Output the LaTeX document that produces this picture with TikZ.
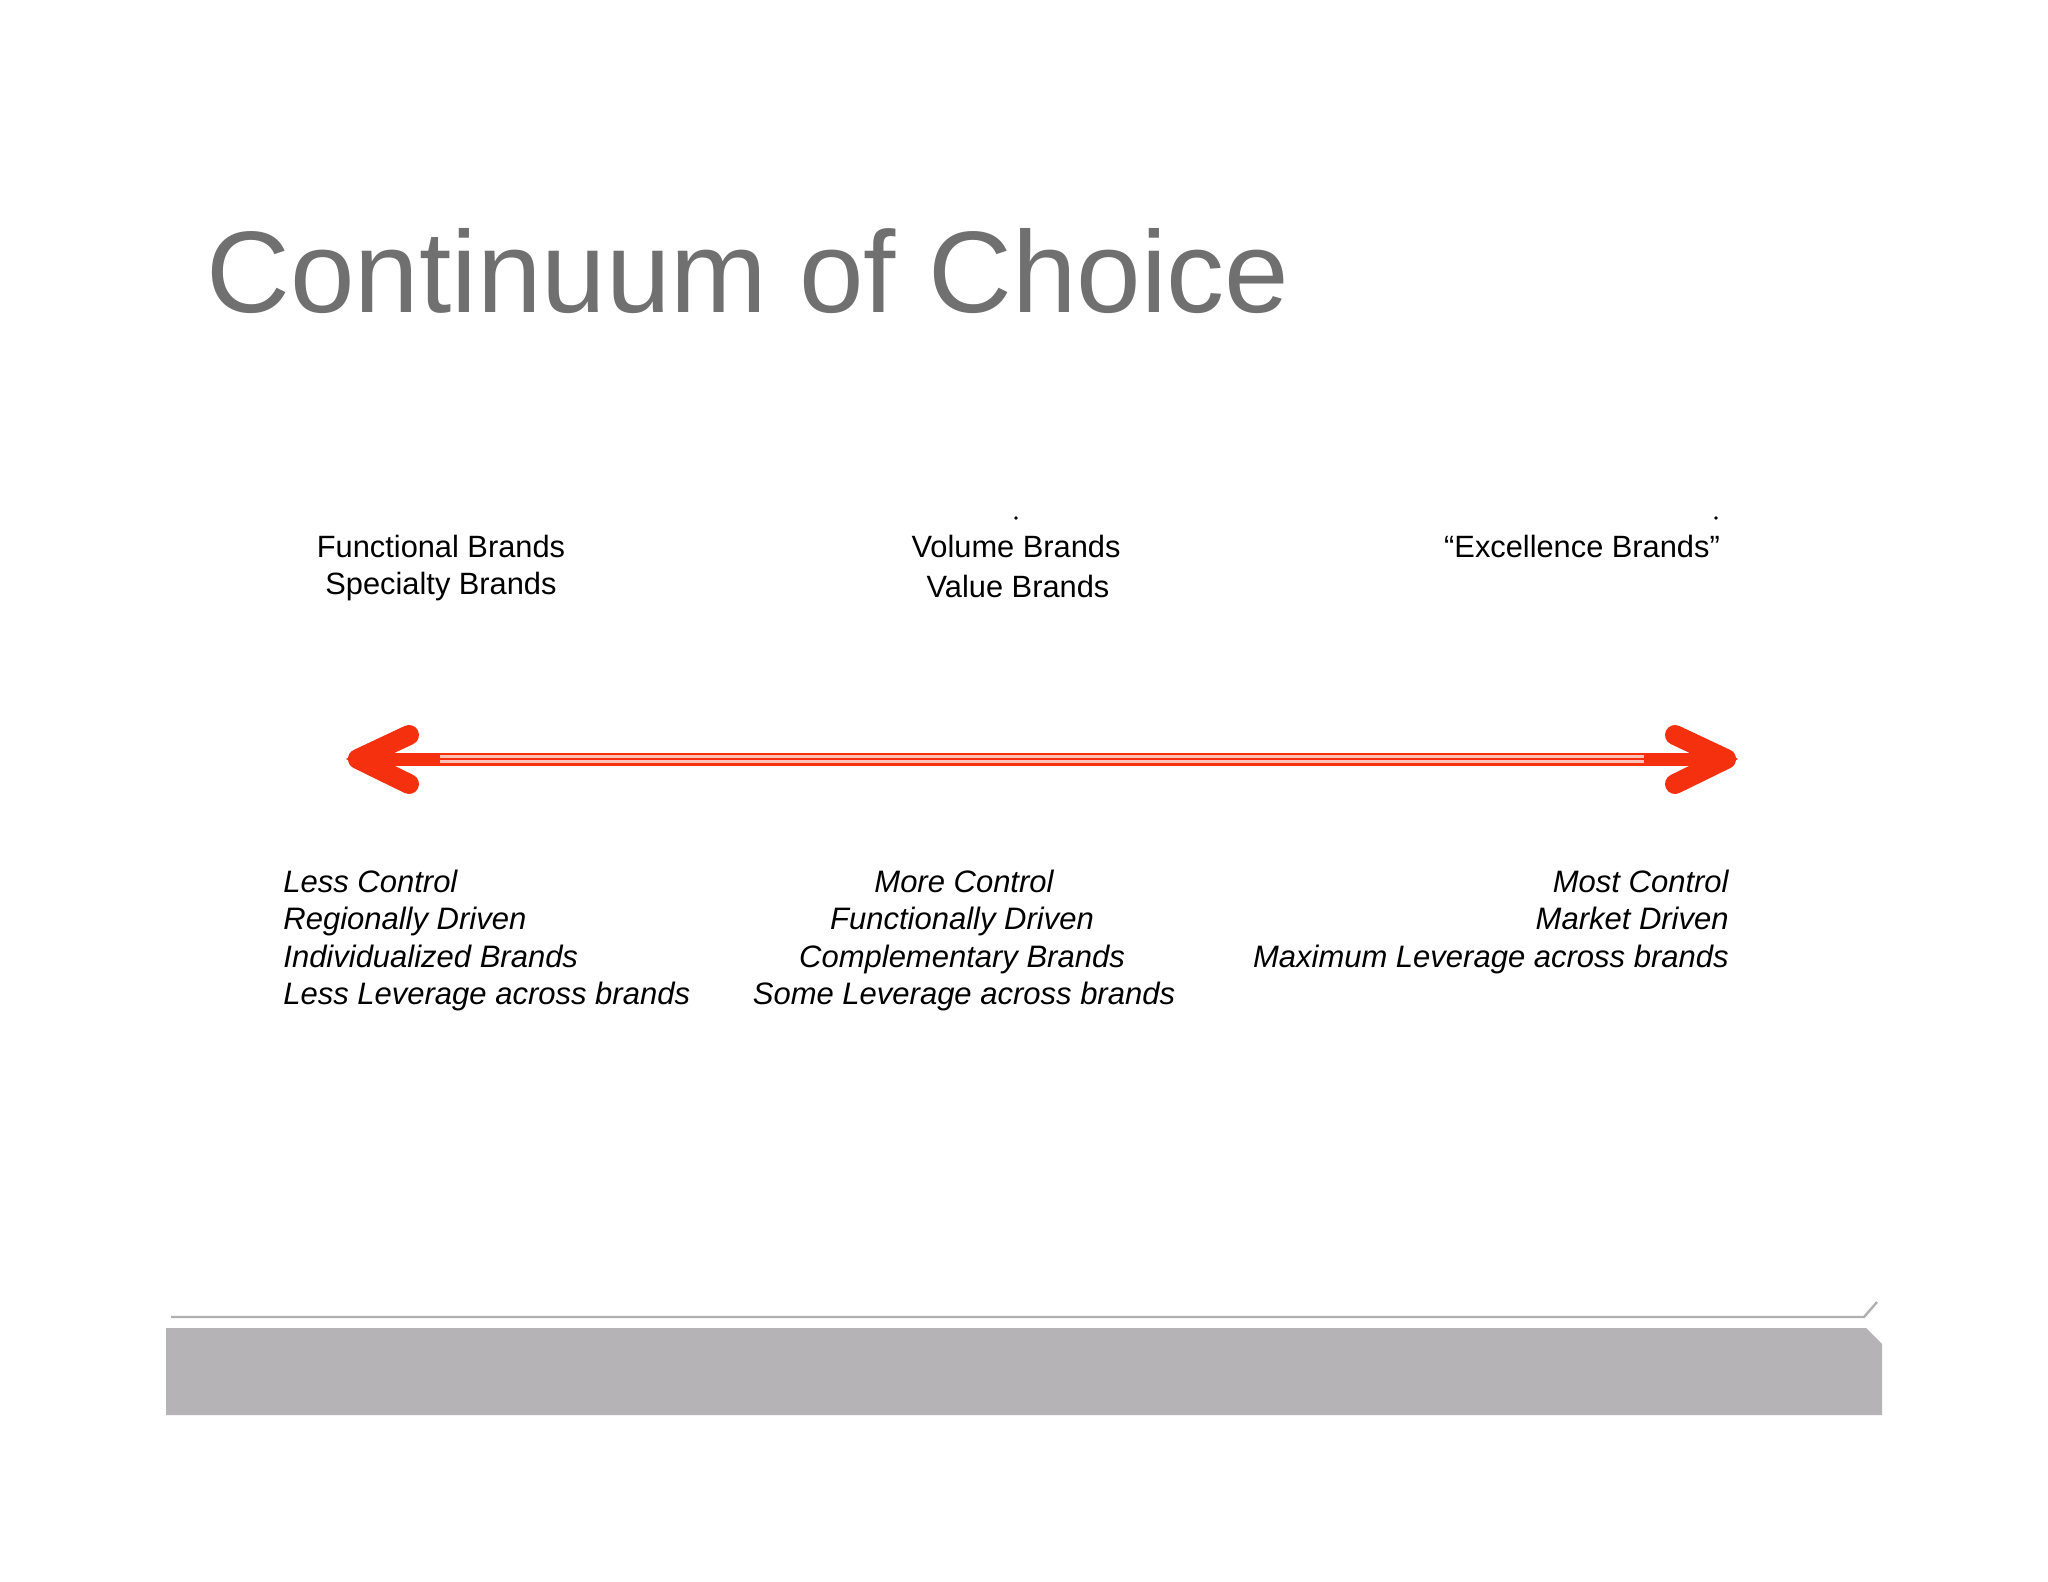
\documentclass[tikz,border=0pt]{standalone}
\usepackage{fontspec}
\setmainfont{Liberation Sans}
\definecolor{titlegray}{HTML}{707070}
\definecolor{arrred}{HTML}{F5300F}
\definecolor{barfill}{HTML}{B5B3B6}
\definecolor{linegray}{HTML}{B0AEB1}
\begin{document}
\begin{tikzpicture}[x=0.5pt,y=-0.5pt,
  lbl/.style={font=\fontsize{15.4}{18}\selectfont,inner sep=0pt,anchor=base},
  ital/.style={font=\fontsize{15.5}{18}\selectfont\itshape,inner sep=0pt,anchor=base}]
\useasboundingbox (0,0) rectangle (2048,1582);
\node[font=\fontsize{58}{64}\selectfont,text=titlegray,inner sep=0pt,anchor=base west] (title) at (206,313) {Continuum of Choice};
% top labels
\node[lbl] (fb) at (441,558) {Functional Brands};
\node[lbl] (sb) at (441,595) {Specialty Brands};
\node[lbl] (vb) at (1016,558) {Volume Brands};
\node[lbl] (vab) at (1018,597) {Value Brands};
\node[lbl] (eb) at (1582,558) {“Excellence Brands”};
\fill (1016,518) circle (1.8);
\fill (1716,518) circle (1.8);
% arrow
\coordinate (L) at (360,759);
\coordinate (R) at (1724,759);
\draw[arrred,line width=6.5pt] (L) -- (R);
\draw[white!70!arrred,line width=3.6pt] ([xshift=40]L) -- ([xshift=-40]R);
\draw[arrred,line width=1.3pt] ([xshift=40]L) -- ([xshift=-40]R);
\draw[arrred,line width=10pt,line cap=round,line join=round] (409,735) -- (358,759) -- (409,784);
\fill[arrred] (346,759) -- (395,731) -- (395,787) -- cycle;
\draw[arrred,line width=10pt,line cap=round,line join=round] (1675,735) -- (1726,759) -- (1675,784);
\fill[arrred] (1738,759) -- (1689,731) -- (1689,787) -- cycle;
% bottom labels
\node[ital,anchor=base west] (l1) at (283,892) {Less Control};
\node[ital,anchor=base west] (l2) at (283,929) {Regionally Driven};
\node[ital,anchor=base west] (l3) at (283,967) {Individualized Brands};
\node[ital,anchor=base west] (l4) at (283,1004) {Less Leverage across brands};
\node[ital] (m1) at (964,892) {More Control};
\node[ital] (m2) at (962,929) {Functionally Driven};
\node[ital] (m3) at (962,967) {Complementary Brands};
\node[ital] (m4) at (964,1004) {Some Leverage across brands};
\node[ital,anchor=base east] (r1) at (1729,892) {Most Control};
\node[ital,anchor=base east] (r2) at (1729,929) {Market Driven};
\node[ital,anchor=base east] (r3) at (1729,967) {Maximum Leverage across brands};
% footer
\draw[linegray,line width=1.2pt] (171,1317) -- (1864,1317) -- (1877,1302);
\fill[barfill] (166,1328) -- (1866,1328) -- (1882,1344) -- (1882,1415) -- (166,1415) -- cycle;
\end{tikzpicture}
\end{document}
